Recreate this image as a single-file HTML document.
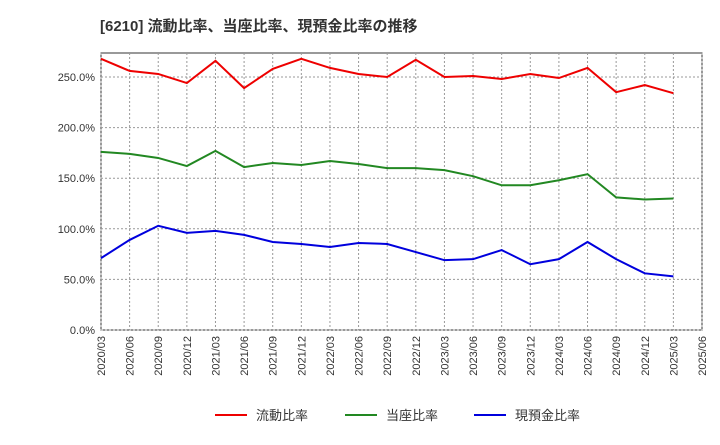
<!DOCTYPE html>
<html><head><meta charset="utf-8"><style>
body{margin:0;background:#fff;font-family:"Liberation Sans","Noto Sans CJK JP",sans-serif;}
</style></head><body>
<svg id="c" width="720" height="440" xmlns="http://www.w3.org/2000/svg" font-family="Liberation Sans, Noto Sans CJK JP, sans-serif">
<text x="100" y="31" font-size="15" font-weight="bold" fill="#333">[6210]  流動比率、当座比率、現預金比率の推移</text>
<g id="grid"></g><g id="axes"></g><g id="series"></g>
<g font-size="13" fill="#333">
<line x1="215" y1="415" x2="247" y2="415" stroke="#e00" stroke-width="2"/><text x="256" y="420">流動比率</text>
<line x1="345" y1="415" x2="377" y2="415" stroke="#282" stroke-width="2"/><text x="386" y="420">当座比率</text>
<line x1="474" y1="415" x2="506" y2="415" stroke="#00d" stroke-width="2"/><text x="515" y="420">現預金比率</text>
</g>
</svg>
<script>
const tickLabels=["2020/03","2020/06","2020/09","2020/12","2021/03","2021/06","2021/09","2021/12","2022/03","2022/06","2022/09","2022/12","2023/03","2023/06","2023/09","2023/12","2024/03","2024/06","2024/09","2024/12","2025/03","2025/06"];
const yTicks=[0,50,100,150,200,250];
const currentRatio=[268,256,253,244,266,239,258,268,259,253,250,267,250,251,248,253,249,259,235,242,234];
const quickRatio=[176,174,170,162,177,161,165,163,167,164,160,160,158,152,143,143,148,154,131,129,130];
const cashRatio=[71,89,103,96,98,94,87,85,82,86,85,77,69,70,79,65,70,87,70,56,53];
const L=101,R=702,T=53,B=330;
const xs=i=>L+i*(R-L)/(tickLabels.length-1);
const ys=v=>B-v*(B-77)/250;
const ns="http://www.w3.org/2000/svg";
function mk(p,t,a){const e=document.createElementNS(ns,t);for(const k in a)e.setAttribute(k,a[k]);document.getElementById(p).appendChild(e);return e;}
const pa=mk('grid','rect',{x:L,y:T,width:R-L,height:B-T,fill:'none',stroke:'#333','stroke-width':1});


yTicks.forEach(v=>{const y=ys(v);
const g=mk('grid','line',{x1:L,x2:R,y1:y,y2:y,stroke:'#999','stroke-dasharray':'2,2'});


const t=mk('axes','text',{x:L-6,y:y+4,'text-anchor':'end','font-size':11,fill:'#333'});t.textContent=v.toFixed(1)+'%';

});
tickLabels.forEach((s,i)=>{const x=xs(i);
const g=mk('grid','line',{x1:x,x2:x,y1:T,y2:B,stroke:'#999','stroke-dasharray':'2,2'});


const t=mk('axes','text',{x:x+4,y:B+6,'text-anchor':'end','font-size':11,fill:'#333',transform:`rotate(-90 ${x+4} ${B+6})`});t.textContent=s;

});
[[currentRatio,'#e00','current-ratio-line'],[quickRatio,'#282','quick-ratio-line'],[cashRatio,'#00d','cash-ratio-line']].forEach(([d,c,n])=>{
const p=mk('series','polyline',{points:d.map((v,i)=>xs(i)+','+ys(v)).join(' '),fill:'none',stroke:c,'stroke-width':2});

});
</script>
</body></html>
